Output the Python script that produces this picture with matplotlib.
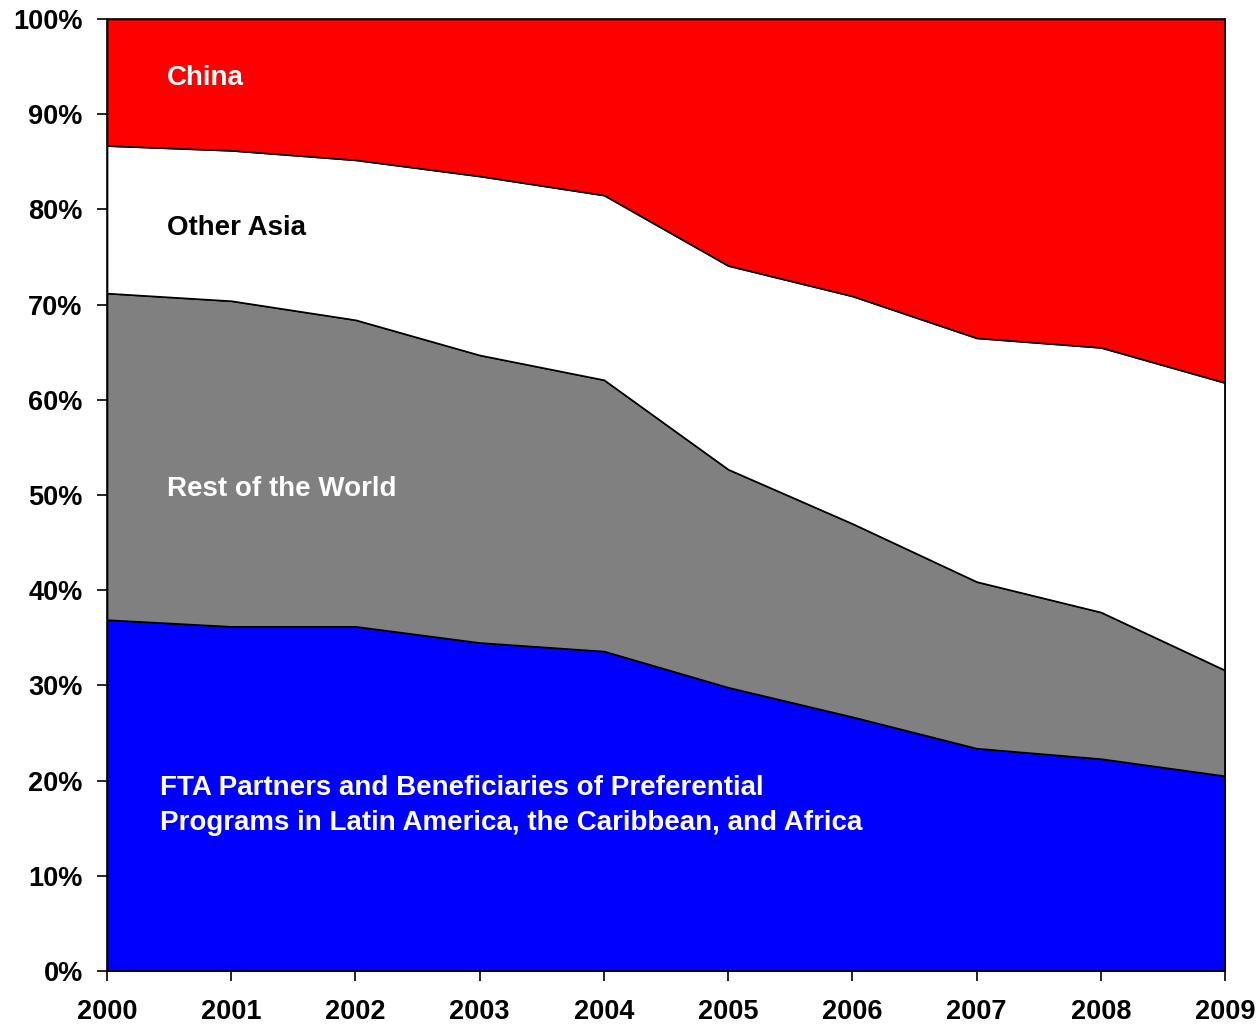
import matplotlib.pyplot as plt
import numpy as np

plt.rcParams['font.family'] = ['Liberation Sans', 'DejaVu Sans']
plt.rcParams['font.weight'] = 'bold'

years = [2000, 2001, 2002, 2003, 2004, 2005, 2006, 2007, 2008, 2009]
# shares of imports (percent), bottom to top
fta = [36.9, 36.2, 36.2, 34.5, 33.6, 29.8, 26.7, 23.4, 22.3, 20.5]
rest_world = [34.3, 34.2, 32.2, 30.2, 28.5, 22.9, 20.3, 17.5, 15.4, 11.1]
other_asia = [15.5, 15.8, 16.8, 18.8, 19.4, 21.4, 23.9, 25.6, 27.8, 30.2]
china = [13.3, 13.8, 14.8, 16.5, 18.5, 25.9, 29.1, 33.5, 34.5, 38.2]

series = [fta, rest_world, other_asia, china]
colors = ['#0000ff', '#808080', '#ffffff', '#ff0000']

fig = plt.figure(figsize=(12.59, 10.25), dpi=100)
ax = fig.add_axes([0.085, 0.0527, 0.888, 0.9288])

x = np.arange(len(years))
ax.stackplot(x, *series, colors=colors, edgecolor='black', linewidth=1.2)

ax.set_xlim(0, len(years) - 1)
ax.set_ylim(0, 100)
ax.set_xticks(x)
ax.set_xticklabels([str(y) for y in years])
ax.set_yticks(np.arange(0, 101, 10))
ax.set_yticklabels([f'{v}%' for v in range(0, 101, 10)])
ax.tick_params(axis='both', direction='out', length=7, width=1.2, labelsize=19.5)
ax.tick_params(axis='x', pad=13.5)
ax.tick_params(axis='y', pad=10.5)
for s in ax.spines.values():
    s.set_linewidth(1.2)

fs = 20
ax.text(0.48, 93.8, 'China', color='white', fontsize=fs, va='center')
ax.text(0.48, 78.0, 'Other Asia', color='black', fontsize=fs, va='center')
ax.text(0.48, 50.6, 'Rest of the World', color='white', fontsize=fs, va='center')
ax.text(0.43, 19.2, 'FTA Partners and Beneficiaries of Preferential',
        color='white', fontsize=fs, va='center')
ax.text(0.43, 15.5, 'Programs in Latin America, the Caribbean, and Africa',
        color='white', fontsize=fs, va='center')

fig.savefig('out.png', dpi=100)
